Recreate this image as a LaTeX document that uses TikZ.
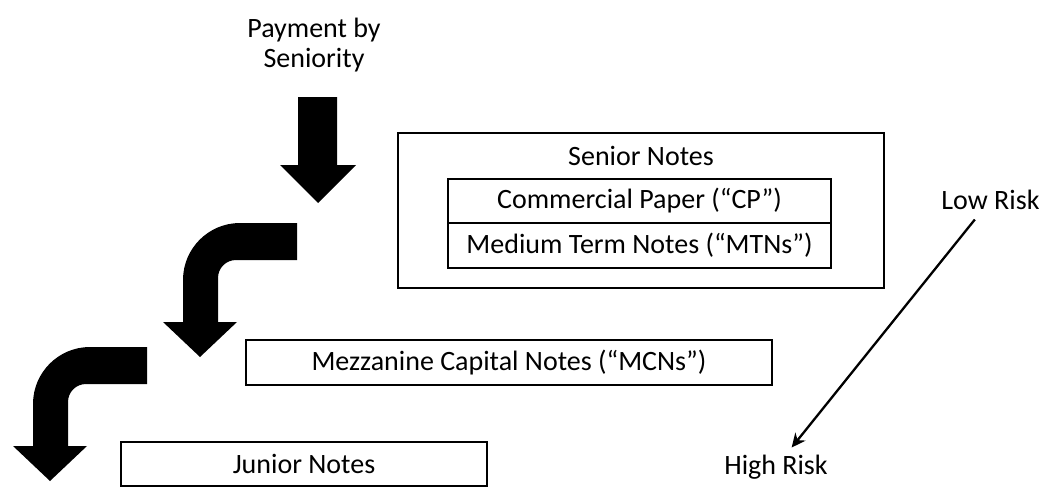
\documentclass[tikz,border=0pt]{standalone}
\usepackage{fontspec}
\setmainfont{Carlito}
\usetikzlibrary{arrows.meta}
\begin{document}
\begin{tikzpicture}[x=1pt,y=-1pt,
  txt/.style={inner sep=0pt, font=\fontsize{28}{30}\selectfont},
  notebox/.style={draw=black, line width=1.4pt, inner sep=0pt, font=\fontsize{28}{30}\selectfont},
  riskarrow/.style={line width=2.3pt, -{Stealth[length=14pt,width=13pt]}},
  bent/.pic={
    \fill[black] (297,223) -- (240,223) .. controls (208.5,223) and (183,248.5) .. (183,280)
      -- (183,322) -- (163,322) -- (200,357) -- (237,322) -- (218,322) -- (218,278)
      .. controls (218,268) and (226,260) .. (236,260) -- (297,260) -- cycle;
  }]
\useasboundingbox (0,0) rectangle (1047,487);
\fill[white] (0,0) rectangle (1047,487);
% title
\node[txt, align=center] (title) at (314,45) {Payment by\\Seniority};
% straight arrow
\fill[black] (298,97) -- (337,97) -- (337,165) -- (356,165) -- (318,203) -- (280,165) -- (298,165) -- cycle;
% bent arrows
\pic at (0,0) {bent};
\pic at (-150,124) {bent};
% senior box
\node[notebox, minimum width=486pt, minimum height=155pt] (senior) at (641,210.5) {};
\node[txt] (seniorlbl) at (641,155.5) {Senior Notes};
\node[notebox, minimum width=383pt, minimum height=44pt] (cp) at (639.5,201) {Commercial Paper (“CP”)};
\node[notebox, minimum width=383pt, minimum height=45pt] (mtn) at (639.5,245.5) {Medium Term Notes (“MTNs”)};
% mezzanine
\node[notebox, minimum width=526pt, minimum height=45pt] (mcn) at (509,362.5) {Mezzanine Capital Notes (“MCNs”)};
% junior
\node[notebox, minimum width=366pt, minimum height=44pt] (jun) at (304,464) {Junior Notes};
% risk
\node[txt] (low) at (990.5,200) {Low Risk};
\node[txt] (high) at (776,467) {High Risk};
\draw[riskarrow, shorten <=25pt, shorten >=25pt] (low.center) -- (high.center);
\end{tikzpicture}
\end{document}
